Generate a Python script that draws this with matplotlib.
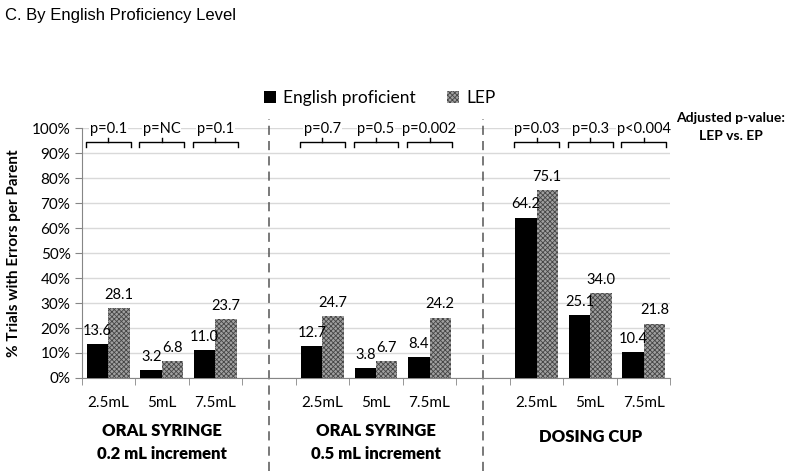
import matplotlib
matplotlib.use('Agg')
import matplotlib.pyplot as plt
from matplotlib.patches import Patch

# data
sizes = ['2.5mL', '5mL', '7.5mL'] * 3
ep = [13.6, 3.2, 11.0, 12.7, 3.8, 8.4, 64.2, 25.1, 10.4]
lep = [28.1, 6.8, 23.7, 24.7, 6.7, 24.2, 75.1, 34.0, 21.8]
pvals = ['p=0.1', 'p=NC', 'p=0.1', 'p=0.7', 'p=0.5', 'p=0.002',
         'p=0.03', 'p=0.3', 'p<0.004']
groups = ['ORAL SYRINGE\n0.2 mL increment', 'ORAL SYRINGE\n0.5 mL increment', 'DOSING CUP']

plt.rcParams['font.family'] = ['Lato', 'DejaVu Sans']
plt.rcParams['hatch.linewidth'] = 0.6

xpos = [0, 1, 2, 4, 5, 6, 8, 9, 10]
w = 0.4
lep_face = '#a0a0a0'
lep_hatch = '#454545'

fig = plt.figure(figsize=(8, 4.71), dpi=100)
ax = fig.add_axes([0.102, 0.1975, 0.736, 0.5305])

ax.bar([x - w / 2 for x in xpos], ep, w, color='black', zorder=3)
ax.bar([x + w / 2 for x in xpos], lep, w, color=lep_face, hatch='xxxxxxx',
       edgecolor=lep_hatch, linewidth=0, zorder=3)

for x, v in zip(xpos, ep):
    ax.text(x - w / 2, v + 2.5, f'{v:.1f}', ha='center', va='bottom', fontsize=10.5)
for x, v in zip(xpos, lep):
    ax.text(x + w / 2, v + 2.5, f'{v:.1f}', ha='center', va='bottom', fontsize=10.5)

# brackets with p-values
for x, p in zip(xpos, pvals):
    l, r = x - 0.42, x + 0.42
    ax.plot([l, l, r, r], [92.6, 94.6, 94.6, 92.6], color='black', lw=1,
            clip_on=False, zorder=4)
    ax.plot([x, x], [94.6, 96.2], color='black', lw=1, clip_on=False, zorder=4)
    ax.text(x, 99.6, p, ha='center', va='center', fontsize=10.5,
            bbox=dict(facecolor='white', edgecolor='none', pad=0.5), zorder=5)

# dashed separators
for xs in [3, 7]:
    ax.plot([xs, xs], [-0.372, 1.035], transform=ax.get_xaxis_transform(),
            color='#555555', lw=1.1, ls=(0, (6, 4)), clip_on=False, zorder=2)

ax.set_xlim(-0.5, 10.5)
ax.set_ylim(0, 100)
ax.set_yticks(range(0, 101, 10))
ax.set_yticklabels([f'{v}%' for v in range(0, 101, 10)], fontsize=11)
ax.set_xticks(xpos)
ax.set_xticklabels(sizes, fontsize=11)
ax.set_xticks([i - 0.5 for i in range(12)], minor=True)
ax.tick_params(axis='x', which='major', length=0, pad=13)
ax.tick_params(axis='x', which='minor', length=5, color='#868686')
ax.tick_params(axis='y', length=5, color='#868686', pad=3)
ax.grid(axis='y', color='#d9d9d9', lw=1, zorder=0)
for s in ['top', 'right']:
    ax.spines[s].set_visible(False)
for s in ['left', 'bottom']:
    ax.spines[s].set_color('#868686')

ax.set_ylabel('% Trials with Errors per Parent', fontsize=11, fontweight='bold',
              labelpad=8)

for gx, g in zip([1, 5, 9], groups):
    gy = -25.8 if '\n' in g else -23.8
    ax.text(gx, gy, g, ha='center', va='center', fontsize=12,
            fontweight='heavy', clip_on=False, linespacing=1.55)

fig.text(0.006, 0.968, 'C. By English Proficiency Level', fontsize=12,
         family='Liberation Sans', va='center')
fig.text(0.913, 0.73, 'Adjusted p-value:\nLEP vs. EP', fontsize=10,
         fontweight='bold', ha='center', va='center', linespacing=1.6)

handles = [Patch(facecolor='black'),
           Patch(facecolor=lep_face, hatch='xxxxxxx', edgecolor=lep_hatch, linewidth=0)]
fig.legend(handles, ['English proficient', 'LEP'], loc='center', ncol=2,
           bbox_to_anchor=(0.475, 0.792), frameon=False, fontsize=12.5,
           handlelength=0.7, handleheight=0.7, handletextpad=0.4, columnspacing=1.8)

fig.savefig('out.png', dpi=100)
